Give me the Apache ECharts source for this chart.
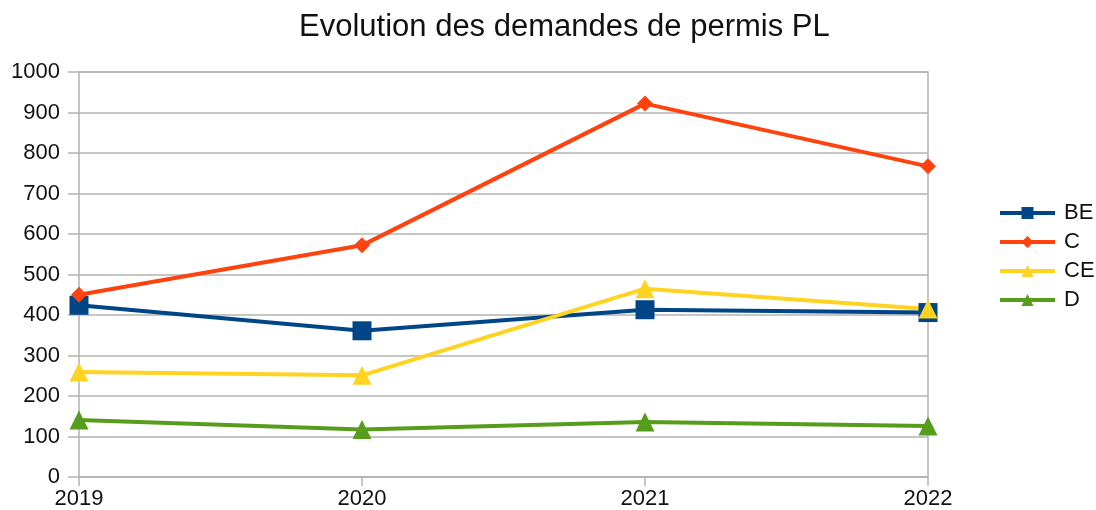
<!DOCTYPE html>
<html><head><meta charset="utf-8">
<script src="https://cdn.jsdelivr.net/npm/echarts@6/dist/echarts.min.js"></script>
<style>html,body{margin:0;padding:0;background:#fff}#c{width:1096px;height:510px}</style>
</head><body><div id="c"></div>
<script>
const years = ['2019', '2020', '2021', '2022'];
const BE = [424, 361, 413, 406];
const C = [450, 572, 922, 767];
const CE = [259, 251, 465, 415];
const D = [141, 117, 136, 126];

const font = 'Liberation Sans';
function s(name, data, color, symbol, size) {
  return { name, type: 'line', data, symbol, symbolSize: size,
    lineStyle: { color, width: 4 }, itemStyle: { color }, z: 3 };
}
const chart = echarts.init(document.getElementById('c'));
chart.setOption({
  animation: false,
  textStyle: { fontFamily: font },
  title: { text: 'Evolution des demandes de permis PL', left: 294, top: 7,
    textStyle: { fontFamily: font, fontSize: 31, fontWeight: 'normal', color: '#111' } },
  grid: { left: 79, right: 168, top: 72, bottom: 33, show: true, borderColor: '#b3b3b3', borderWidth: 1.5 },
  legend: { orient: 'vertical', left: 998, top: 202, padding: 0, itemWidth: 55, itemHeight: 15, itemGap: 7,
    lineStyle: { width: 4 },
    textStyle: { fontFamily: font, fontSize: 22, color: '#111', padding: [0, 0, 0, 4] } },
  xAxis: { type: 'category', data: years, boundaryGap: false,
    axisLine: { lineStyle: { color: '#b3b3b3', width: 1.5 } },
    axisTick: { length: 9, lineStyle: { color: '#b3b3b3', width: 1.5 } },
    axisLabel: { fontFamily: font, fontSize: 22, color: '#111', margin: 11 },
    splitLine: { show: false } },
  yAxis: { type: 'value', min: 0, max: 1000, interval: 100,
    axisLine: { show: false },
    axisTick: { show: true, length: 11, lineStyle: { color: '#b3b3b3', width: 1.5 } },
    axisLabel: { fontFamily: font, fontSize: 22, color: '#111', margin: 19, formatter: v => String(v) },
    splitLine: { lineStyle: { color: '#b3b3b3', width: 1.5 } } },
  series: [
    s('BE', BE, '#004586', 'rect', 19),
    s('C', C, '#ff420e', 'diamond', 16),
    s('CE', CE, '#ffd320', 'triangle', 19),
    s('D', D, '#579d1c', 'triangle', 19)
  ]
});
</script></body></html>
